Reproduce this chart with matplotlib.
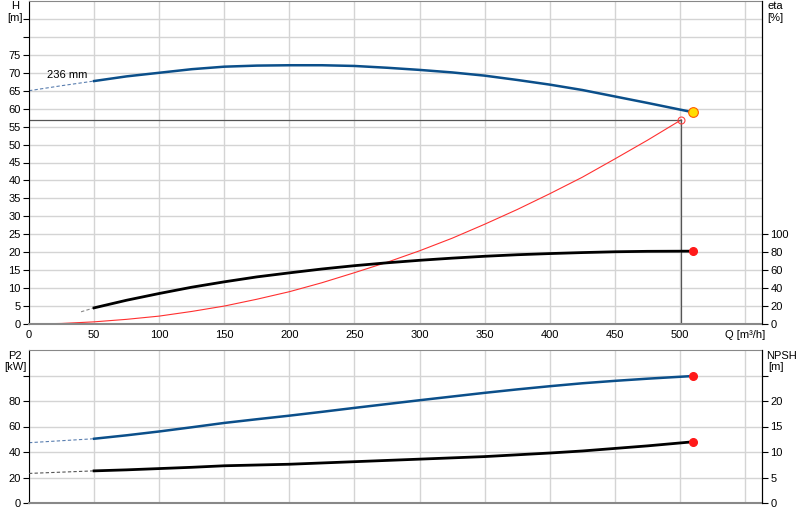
import matplotlib.pyplot as plt
import numpy as np

plt.rcParams['font.family'] = ['Liberation Sans', 'DejaVu Sans']

# pump curve H (236 mm impeller)
q_h_dash = [0, 25, 50]
h_dash = [65.0, 66.4, 67.7]
q_h = [50, 75, 100, 125, 150, 175, 200, 225, 250, 275, 300, 325, 350, 375,
       400, 425, 450, 475, 510]
h = [67.7, 69.0, 70.0, 71.0, 71.7, 72.0, 72.1, 72.1, 71.9, 71.4, 70.8, 70.1,
     69.2, 68.0, 66.7, 65.2, 63.4, 61.6, 59.0]

# system curve
q_sys = [0, 25, 50, 75, 100, 125, 150, 175, 200, 225, 250, 275, 300, 325,
         350, 375, 400, 425, 450, 475, 501]
h_sys = [0, 0.15, 0.6, 1.3, 2.2, 3.5, 5.0, 6.9, 9.0, 11.5, 14.3, 17.2, 20.4,
         23.9, 27.8, 31.9, 36.3, 40.9, 46.0, 51.2, 56.9]

# efficiency
q_eta_dash = [40, 50]
eta_dash = [13.6, 18.0]
q_eta = [50, 75, 100, 125, 150, 175, 200, 225, 250, 275, 300, 325, 350, 375,
         400, 425, 450, 475, 510]
eta = [18.0, 26.5, 34.0, 41.0, 47.0, 52.5, 57.0, 61.3, 65.0, 68.2, 71.0,
       73.4, 75.5, 77.2, 78.5, 79.6, 80.5, 81.0, 81.2]

# power P2
q_p2_dash = [0, 50]
p2_dash = [47.3, 50.4]
q_p2 = [50, 75, 100, 125, 150, 175, 200, 225, 250, 275, 300, 325, 350, 375,
        400, 425, 450, 475, 510]
p2 = [50.4, 53.1, 56.1, 59.4, 62.8, 65.7, 68.5, 71.5, 74.6, 77.6, 80.6, 83.5,
      86.4, 89.1, 91.6, 93.9, 95.8, 97.5, 99.6]

# NPSH
q_npsh_dash = [0, 50]
npsh_dash = [5.8, 6.3]
q_npsh = [50, 75, 100, 125, 150, 175, 200, 225, 250, 275, 300, 325, 350,
          375, 400, 425, 450, 475, 510]
npsh = [6.3, 6.5, 6.75, 7.0, 7.3, 7.45, 7.6, 7.85, 8.1, 8.35, 8.6, 8.85, 9.1,
        9.45, 9.8, 10.2, 10.7, 11.2, 12.0]

q_op, h_op = 501, 56.9

x_ticks = [0, 50, 100, 150, 200, 250, 300, 350, 400, 450, 500, 550]
x_labels = ['0', '50', '100', '150', '200', '250', '300', '350', '400', '450',
            '500', 'Q [m³/h]']

blue = '#0b4f8a'
grid_c = '#d4d4d4'
fs = 8

fig = plt.figure(figsize=(8, 5.2), dpi=100)
ax = fig.add_axes([29 / 800, 1 - 324 / 520, 733 / 800, 323 / 520])
ax2 = ax.twinx()
bx = fig.add_axes([29 / 800, 1 - 503 / 520, 733 / 800, 153 / 520])
bx2 = bx.twinx()

for a in (ax, bx):
    a.set_xlim(0, 563)
    a.set_xticks(x_ticks)
    a.grid(True, color=grid_c, linewidth=1)
    a.set_axisbelow(True)
    a.tick_params(axis='x', length=0, labelsize=fs, pad=4)
    a.tick_params(axis='y', labelsize=fs, length=4, direction='out', pad=2)
    a.spines['left'].set_color('black')
    a.spines['top'].set_color('#888888')
    a.spines['bottom'].set_color('#888888')
    a.spines['bottom'].set_linewidth(1.5)
for a in (ax2, bx2):
    a.spines['right'].set_color('black')
    a.spines['top'].set_visible(False)
    a.spines['bottom'].set_visible(False)
    a.spines['left'].set_visible(False)
    a.tick_params(axis='y', labelsize=fs, length=4, direction='out', pad=2)

# top chart
ax.set_ylim(0, 90)
ax.set_yticks(np.arange(0, 90, 5))
ax.set_yticklabels([str(v) if v <= 75 else '' for v in range(0, 90, 5)])
ax.set_xticklabels(x_labels)
ax2.set_ylim(0, 360)
ax2.set_yticks(range(0, 101, 20))

ax.plot(q_h_dash, h_dash, color='#5a7fb0', lw=0.8, ls=(0, (3, 2)))
ax.plot(q_h, h, color=blue, lw=1.8)
ax.plot(q_sys, h_sys, color='#ff3030', lw=0.8)
ax.plot([0, q_op], [h_op, h_op], color='#555555', lw=0.9)
ax.plot([q_op, q_op], [0, h_op], color='#555555', lw=0.9)
ax.plot(q_op, h_op, 'o', ms=5, mfc='none', mec='#ff4040', mew=0.8)
ax.plot(q_h[-1], h[-1], 'o', ms=7, mfc='#ffdd00', mec='#ff5a00', mew=0.8)
ax.text(14, 69.5, '236 mm', fontsize=fs, va='center')

ax2.plot(q_eta_dash, eta_dash, color='#888888', lw=0.8, ls=(0, (3, 2)))
ax2.plot(q_eta, eta, color='black', lw=2)
ax2.plot(q_eta[-1], eta[-1], 'o', ms=5.5, color='#ff1a1a')

ax.text(681, 89.8, 'NK 125-250/236', fontsize=fs, ha='left', va='top',
        bbox=dict(boxstyle='square,pad=0.35', fc='white', ec='#777777', lw=0.8))

fig.text(15 / 800, 1 - 6 / 520, 'H', fontsize=fs, ha='center', va='center')
fig.text(15 / 800, 1 - 18 / 520, '[m]', fontsize=fs, ha='center', va='center')
fig.text(767 / 800, 1 - 6 / 520, 'eta', fontsize=fs, ha='left', va='center')
fig.text(767 / 800, 1 - 18 / 520, '[%]', fontsize=fs, ha='left', va='center')

# bottom chart
bx.set_ylim(0, 120)
bx.set_yticks(range(0, 101, 20))
bx.set_yticklabels(['0', '20', '40', '60', '80', ''])
bx.set_xticklabels([])
bx2.set_ylim(0, 30)
bx2.set_yticks(range(0, 26, 5))
bx2.set_yticklabels(['0', '5', '10', '15', '20', ''])

bx.plot(q_p2_dash, p2_dash, color='#5a7fb0', lw=0.8, ls=(0, (3, 2)))
bx.plot(q_p2, p2, color=blue, lw=1.8)
bx.plot(q_p2[-1], p2[-1], 'o', ms=5.5, color='#ff1a1a')
bx2.plot(q_npsh_dash, npsh_dash, color='#555555', lw=0.8, ls=(0, (3, 2)))
bx2.plot(q_npsh, npsh, color='black', lw=2)
bx2.plot(q_npsh[-1], npsh[-1], 'o', ms=5.5, color='#ff1a1a')

fig.text(15 / 800, 1 - 356 / 520, 'P2', fontsize=fs, ha='center', va='center')
fig.text(15 / 800, 1 - 367 / 520, '[kW]', fontsize=fs, ha='center', va='center')
fig.text(766 / 800, 1 - 356 / 520, 'NPSH', fontsize=fs, ha='left', va='center')
fig.text(776 / 800, 1 - 367 / 520, '[m]', fontsize=fs, ha='center', va='center')

fig.savefig('out.png', dpi=100)
